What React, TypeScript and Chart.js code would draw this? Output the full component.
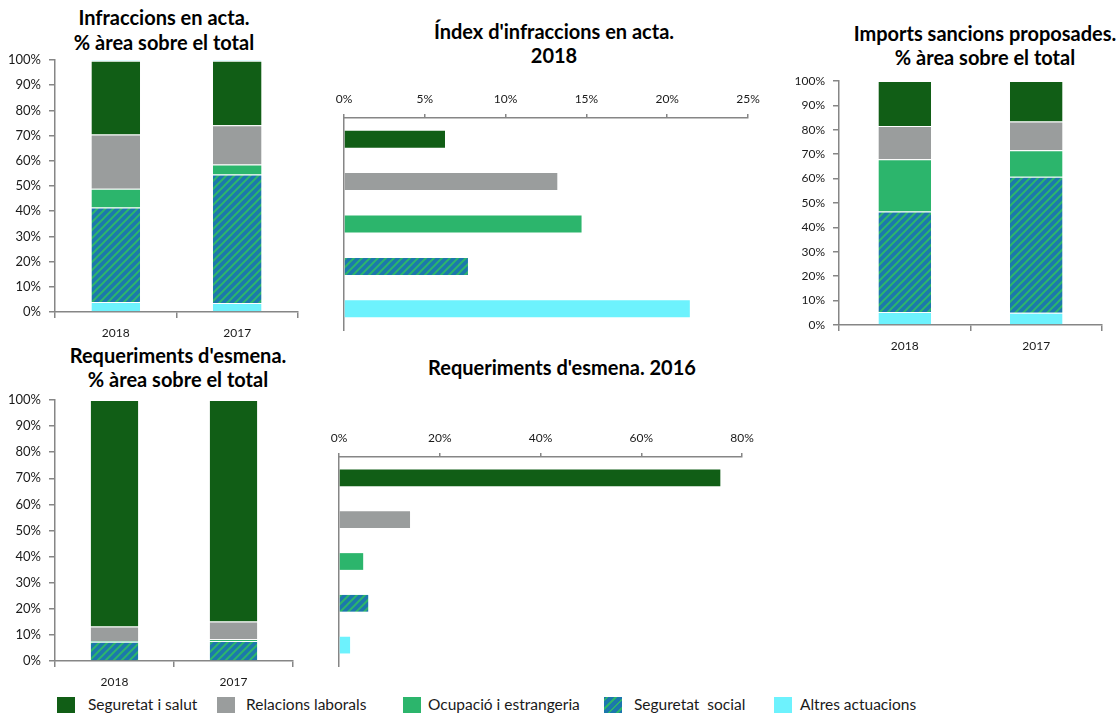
import React, { useEffect, useRef } from 'react';
import { Chart, registerables } from 'chart.js';
Chart.register(...registerables);

// ---------- data ----------
const years = ['2018', '2017'];
const areaLabels = ['Seguretat i salut', 'Relacions laborals', 'Ocupació i estrangeria', 'Seguretat  social', 'Altres actuacions'];

// Infraccions en acta. % àrea sobre el total (stacked, bottom -> top)
const infrAltres = [4.0, 3.6];
const infrSegSocial = [37.5, 51.0];
const infrOcupacio = [7.4, 3.9];
const infrRelacions = [21.5, 15.6];
const infrSalut = [29.3, 25.6];
const infrAltresTop = [0.3, 0.3];

// Imports sancions proposades. % àrea sobre el total
const impAltres = [5.3, 5.0];
const impSegSocial = [41.2, 55.8];
const impOcupacio = [21.4, 10.8];
const impRelacions = [13.7, 11.8];
const impSalut = [18.4, 16.6];

// Requeriments d'esmena. % àrea sobre el total
const reqAltres = [0, 0];
const reqSegSocial = [7.4, 7.7];
const reqOcupacio = [0.3, 0.6];
const reqRelacions = [5.5, 6.8];
const reqSalut = [86.8, 84.9];

// Índex d'infraccions en acta. 2018 (order: salut, relacions, ocupació, seg. social, altres)
const index2018 = [6.25, 13.2, 14.7, 7.67, 21.4];
// Requeriments d'esmena. 2016
const req2016 = [75.7, 14.1, 4.8, 5.8, 2.2];

// axis ranges / tick steps
const stackMax = 100;
const stackStep = 10;
const indexMax = 25;
const indexStep = 5;
const req2016Max = 80;
const req2016Step = 20;

// ---------- styles ----------
const C_SALUT = '#115E16';
const C_RELAC = '#9A9D9D';
const C_OCUP = '#2CB56C';
const C_BLUE = '#1C78AC';
const C_STRIPE = '#2CB56C';
const C_ALTRES = '#6DF2FD';
const C_AXIS = '#868686';
const C_TXT = '#1a1a1a';
const FONT = 'Lato, "Open Sans", sans-serif';

Chart.defaults.font.family = FONT;

function makeHatch(): CanvasPattern | string {
  const c = document.createElement('canvas');
  c.width = 8;
  c.height = 8;
  const g = c.getContext('2d');
  if (!g) return C_BLUE;
  g.fillStyle = C_BLUE;
  g.fillRect(0, 0, 8, 8);
  g.strokeStyle = C_STRIPE;
  g.lineWidth = 2;
  g.beginPath();
  g.moveTo(-2, 10);
  g.lineTo(10, -2);
  g.moveTo(-2, 2);
  g.lineTo(2, -2);
  g.moveTo(6, 10);
  g.lineTo(10, 6);
  g.stroke();
  return g.createPattern(c, 'repeat') || C_BLUE;
}

const sepBorder = { top: 1, right: 0, bottom: 0, left: 0 };
const sepColor = 'rgba(255,255,255,0.35)';

function seg(label: string, data: number[], color: any) {
  return { label, data, backgroundColor: color, borderColor: sepColor, borderWidth: sepBorder, borderSkipped: 'start' };
}

function stackedConfig(datasets: any[], o: { tickSize: number; yWidth: number; xHeight: number; padding: any }) {
  return {
    type: 'bar',
    data: { labels: years, datasets },
    options: {
      responsive: false,
      animation: false,
      events: [],
      layout: { padding: o.padding },
      plugins: { legend: { display: false }, tooltip: { enabled: false }, title: { display: false } },
      datasets: { bar: { barPercentage: 0.4, categoryPercentage: 1 } },
      scales: {
        x: {
          stacked: true,
          grid: { drawOnChartArea: false, tickLength: 6, color: C_AXIS, lineWidth: 1.5 },
          border: { color: C_AXIS, width: 1.5 },
          ticks: { padding: 8, font: { size: 12 }, color: C_TXT },
          afterFit: (s: any) => { s.height = o.xHeight; },
        },
        y: {
          stacked: true,
          min: 0,
          max: stackMax,
          ticks: { stepSize: stackStep, padding: 8, font: { size: o.tickSize }, color: C_TXT, callback: (v: any) => v + '%' },
          grid: { drawOnChartArea: false, tickLength: 6, color: C_AXIS, lineWidth: 1.5 },
          border: { color: C_AXIS, width: 1.5 },
          afterFit: (s: any) => { s.width = o.yWidth; s.paddingTop = 0; s.paddingBottom = 0; },
        },
      },
    },
  };
}

function hbarConfig(data: number[], hatch: any, o: { max: number; step: number; xHeight: number; padding: any }) {
  return {
    type: 'bar',
    data: {
      labels: areaLabels,
      datasets: [{ label: '', data, backgroundColor: [C_SALUT, C_RELAC, C_OCUP, hatch, C_ALTRES], borderWidth: 0 }],
    },
    options: {
      indexAxis: 'y',
      responsive: false,
      animation: false,
      events: [],
      layout: { padding: o.padding },
      plugins: { legend: { display: false }, tooltip: { enabled: false }, title: { display: false } },
      datasets: { bar: { barPercentage: 0.4, categoryPercentage: 1 } },
      scales: {
        x: {
          position: 'top',
          min: 0,
          max: o.max,
          ticks: { stepSize: o.step, padding: 8, font: { size: 12 }, color: C_TXT, callback: (v: any) => v + '%' },
          grid: { drawOnChartArea: false, tickLength: 4, color: C_AXIS, lineWidth: 1.5 },
          border: { color: C_AXIS, width: 1.5 },
          afterFit: (s: any) => { s.height = o.xHeight; },
        },
        y: {
          ticks: { display: false },
          grid: { display: false },
          border: { color: C_AXIS, width: 1.5 },
          afterFit: (s: any) => { s.width = 0; },
        },
      },
    },
  };
}

type Box = { left: number; top: number; width: number; height: number };

function ChartBox({ box, make }: { box: Box; make: (hatch: any) => any }) {
  const ref = useRef<HTMLCanvasElement | null>(null);
  useEffect(() => {
    if (!ref.current) return;
    const hatch = makeHatch();
    const chart = new Chart(ref.current, make(hatch));
    return () => chart.destroy();
  }, []);
  return (
    <canvas
      ref={ref}
      width={box.width}
      height={box.height}
      style={{ position: 'absolute', left: box.left, top: box.top, width: box.width, height: box.height }}
    />
  );
}

function Title({ lines, cx, top, lh }: { lines: string[]; cx: number; top: number; lh: number }) {
  return (
    <div
      style={{
        position: 'absolute', left: cx - 200, top, width: 400, textAlign: 'center',
        font: `bold 20px ${FONT}`, lineHeight: lh + 'px', color: '#000', whiteSpace: 'nowrap',
      }}
    >
      {lines.map((l, i) => <div key={i}>{l}</div>)}
    </div>
  );
}

const legendSwatchX = [57, 217, 403, 604, 774];
const legendTextX = [88, 246, 428, 634, 800];

export default function App() {
  const swatchColors = [C_SALUT, C_RELAC, C_OCUP, null, C_ALTRES];
  return (
    <div style={{ position: 'absolute', left: 0, top: 0, width: 1117, height: 713, overflow: 'hidden', background: '#fff', fontFamily: FONT }}>
      <Title lines={['Infraccions en acta.', '% àrea sobre el total']} cx={164} top={5} lh={24.5} />
      <Title lines={["Índex d'infraccions en acta.", '2018']} cx={554} top={19} lh={24.4} />
      <Title lines={['Imports sancions proposades.', '% àrea sobre el total']} cx={985} top={21} lh={24.3} />
      <Title lines={["Requeriments d'esmena.", '% àrea sobre el total']} cx={178} top={343} lh={24.4} />
      <Title lines={["Requeriments d'esmena. 2016"]} cx={562} top={355} lh={24.4} />

      <ChartBox
        box={{ left: 0, top: 50, width: 300, height: 290 }}
        make={(h) => stackedConfig([
          seg('Altres actuacions', infrAltres, C_ALTRES),
          seg('Seguretat  social', infrSegSocial, h),
          seg('Ocupació i estrangeria', infrOcupacio, C_OCUP),
          seg('Relacions laborals', infrRelacions, C_RELAC),
          seg('Seguretat i salut', infrSalut, C_SALUT),
          seg('Altres actuacions', infrAltresTop, C_ALTRES),
        ], { tickSize: 13, yWidth: 55, xHeight: 28, padding: { top: 10, right: 2, left: 0, bottom: 0 } })}
      />
      <ChartBox
        box={{ left: 300, top: 80, width: 470, height: 260 }}
        make={(h) => hbarConfig(index2018, h, { max: indexMax, step: indexStep, xHeight: 38, padding: { top: 0, left: 44, right: 22, bottom: 10 } })}
      />
      <ChartBox
        box={{ left: 770, top: 70, width: 347, height: 290 }}
        make={(h) => stackedConfig([
          seg('Altres actuacions', impAltres, C_ALTRES),
          seg('Seguretat  social', impSegSocial, h),
          seg('Ocupació i estrangeria', impOcupacio, C_OCUP),
          seg('Relacions laborals', impRelacions, C_RELAC),
          seg('Seguretat i salut', impSalut, C_SALUT),
        ], { tickSize: 12, yWidth: 69, xHeight: 35, padding: { top: 11, right: 15, left: 0, bottom: 0 } })}
      />
      <ChartBox
        box={{ left: 0, top: 390, width: 300, height: 300 }}
        make={(h) => stackedConfig([
          seg('Altres actuacions', reqAltres, C_ALTRES),
          seg('Seguretat  social', reqSegSocial, h),
          seg('Ocupació i estrangeria', reqOcupacio, C_OCUP),
          seg('Relacions laborals', reqRelacions, C_RELAC),
          seg('Seguretat i salut', reqSalut, C_SALUT),
        ], { tickSize: 13, yWidth: 55, xHeight: 29, padding: { top: 10, right: 7, left: 0, bottom: 0 } })}
      />
      <ChartBox
        box={{ left: 300, top: 420, width: 470, height: 260 }}
        make={(h) => hbarConfig(req2016, h, { max: req2016Max, step: req2016Step, xHeight: 37, padding: { top: 0, left: 39, right: 28, bottom: 14 } })}
      />

      {areaLabels.map((l, i) => (
        <React.Fragment key={i}>
          <div
            style={{
              position: 'absolute', left: legendSwatchX[i], top: 697, width: 18, height: 18,
              background: swatchColors[i] || `repeating-linear-gradient(-45deg, ${C_BLUE} 0px, ${C_BLUE} 4px, ${C_STRIPE} 4px, ${C_STRIPE} 6px)`,
            }}
          />
          <div
            style={{
              position: 'absolute', left: legendTextX[i], top: 695, font: `15.5px ${FONT}`, lineHeight: '18px',
              color: C_TXT, whiteSpace: 'pre',
            }}
          >
            {l}
          </div>
        </React.Fragment>
      ))}
    </div>
  );
}
